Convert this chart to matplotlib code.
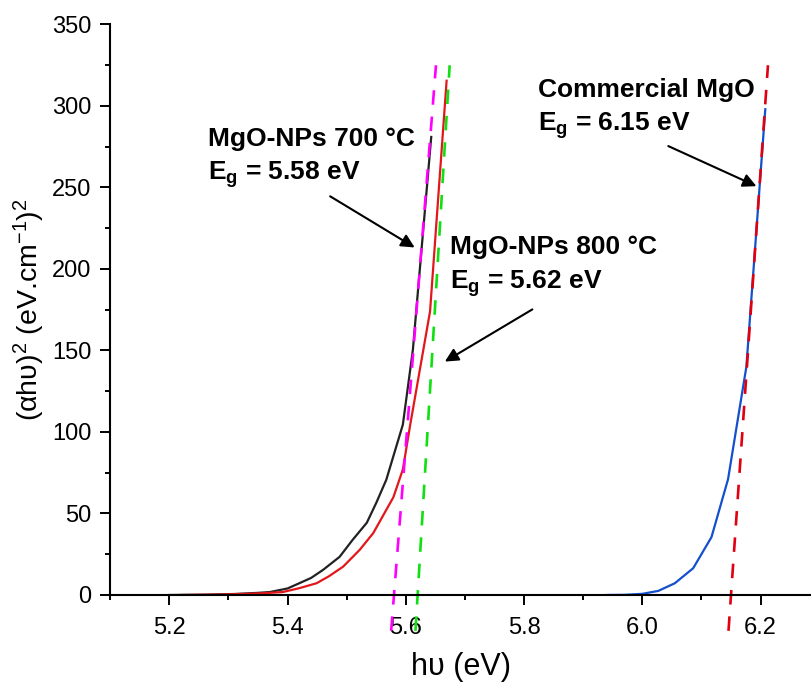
import numpy as np
import matplotlib
matplotlib.use('Agg')
import matplotlib.pyplot as plt
from matplotlib.ticker import MultipleLocator

plt.rcParams['font.family'] = ['Liberation Sans', 'DejaVu Sans']
plt.rcParams['mathtext.fontset'] = 'custom'
plt.rcParams['mathtext.rm'] = 'Liberation Sans'
plt.rcParams['mathtext.bf'] = 'Liberation Sans:bold'
plt.rcParams['mathtext.it'] = 'Liberation Sans:italic'

# Tauc plot data, (alpha h nu)^2 against photon energy
e_700 = [5.20, 5.26, 5.31, 5.35, 5.37, 5.40, 5.421, 5.44, 5.460, 5.488, 5.510,
         5.534, 5.550, 5.567, 5.595, 5.612, 5.643]
y_700 = [0.0, 0.2, 0.6, 1.3, 1.8, 4.0, 7.4, 10.5, 15.4, 23.4, 33.8,
         44.3, 56.5, 70.7, 104.5, 150.6, 281.0]

e_800 = [5.22, 5.28, 5.33, 5.36, 5.392, 5.42, 5.449, 5.47, 5.494, 5.522, 5.545,
         5.579, 5.595, 5.607, 5.641, 5.669]
y_800 = [0.0, 0.2, 0.7, 1.1, 1.8, 4.2, 7.2, 11.5, 17.4, 27.7, 38.0,
         60.0, 77.0, 103.5, 174.0, 315.5]

e_com = [5.94, 5.97, 6.00, 6.027, 6.055, 6.086, 6.117, 6.145, 6.176, 6.208]
y_com = [0.0, 0.1, 0.7, 2.5, 7.2, 16.4, 35.5, 71.0, 140.0, 298.0]

# linear fits: band gap (x intercept) and slope
eg_700, k_700 = 5.58, 4577
eg_800, k_800 = 5.62, 6000
eg_com, k_com = 6.15, 5200
fit_y = [-22, 325]

fig = plt.figure(figsize=(8.12, 6.88), dpi=100)
ax = fig.add_axes([0.1357, 0.1352, 0.8643, 0.8292])

ax.plot(e_700, y_700, color='#222222', lw=1.6)
ax.plot(e_800, y_800, color='#e3171b', lw=1.6)
ax.plot(e_com, y_com, color='#1450cc', lw=1.6)

for eg, k, c in [(eg_700, k_700, '#ff00ff'), (eg_800, k_800, '#10e010'), (eg_com, k_com, '#e00010')]:
    fx = [eg + v / k for v in fit_y]
    ax.plot(fx, fit_y, color=c, lw=1.9, dashes=(5.5, 4.5), clip_on=False)

ax.set_xlim(5.1, 6.287)
ax.set_ylim(0, 350)
ax.xaxis.set_major_locator(MultipleLocator(0.2))
ax.xaxis.set_minor_locator(MultipleLocator(0.1))
ax.yaxis.set_major_locator(MultipleLocator(50))
ax.yaxis.set_minor_locator(MultipleLocator(25))
ax.xaxis.set_major_formatter(plt.FormatStrFormatter('%.1f'))

for s in ['top', 'right']:
    ax.spines[s].set_visible(False)
for s in ['left', 'bottom']:
    ax.spines[s].set_linewidth(1.5)
ax.tick_params(which='major', length=7.5, width=1.4, labelsize=17, pad=6)
ax.tick_params(axis='x', which='major', pad=8)
ax.tick_params(which='minor', length=3.8, width=1.4)

ax.set_xlabel('h\u03c5 (eV)', fontsize=22, labelpad=10)
ax.set_ylabel('(\u03b1h\u03c5)$^\\mathregular{2}$ (eV.cm$^\\mathregular{-1}$)$^\\mathregular{2}$',
              fontsize=20.5)
ax.yaxis.set_label_coords(-0.09, 0.5)

tkw = dict(fontsize=19, fontweight='bold', ha='left', va='baseline')
ax.text(5.265, 275.3, 'MgO-NPs 700 \u00b0C', **tkw)
ax.text(5.265, 255.0, 'E$_\\mathbf{g}$ = %.2f eV' % eg_700, **tkw)
ax.text(5.674, 209.0, 'MgO-NPs 800 \u00b0C', **tkw)
ax.text(5.674, 188.0, 'E$_\\mathbf{g}$ = %.2f eV' % eg_800, **tkw)
ax.text(5.823, 305.5, 'Commercial MgO', **tkw)
ax.text(5.823, 284.6, 'E$_\\mathbf{g}$ = %.2f eV' % eg_com, **tkw)

akw = dict(arrowstyle='-|>', color='black', lw=1.5, mutation_scale=20, shrinkA=0, shrinkB=0)
ax.annotate('', xy=(5.615, 213.2), xytext=(5.472, 244.6), arrowprops=akw)
ax.annotate('', xy=(5.666, 143.2), xytext=(5.814, 175.2), arrowprops=akw)
ax.annotate('', xy=(6.193, 250.8), xytext=(6.044, 275.4), arrowprops=akw)

fig.savefig('out.png', dpi=100)
